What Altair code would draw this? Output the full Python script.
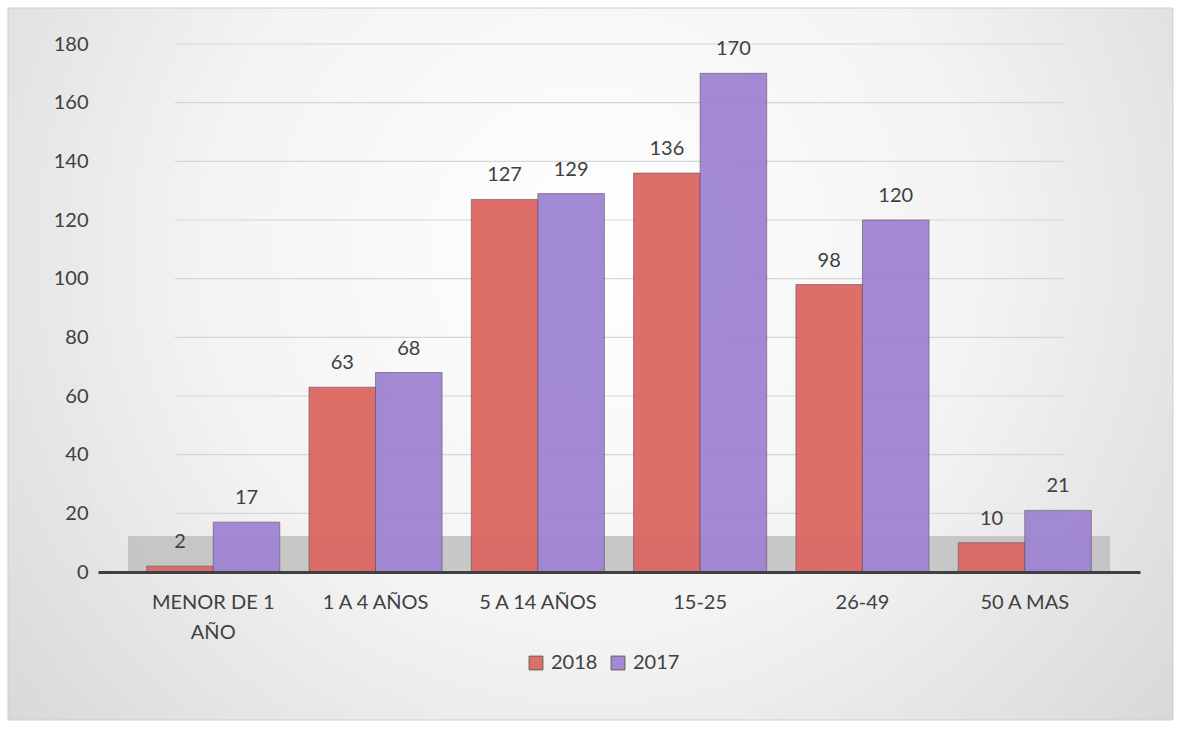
import altair as alt
import pandas as pd

categories = ["MENOR DE 1 AÑO", "1 A 4 AÑOS", "5 A 14 AÑOS", "15-25", "26-49", "50 A MAS"]
values_2018 = [2, 63, 127, 136, 98, 10]
values_2017 = [17, 68, 129, 170, 120, 21]
series = ["2018", "2017"]
y_ticks = [0, 20, 40, 60, 80, 100, 120, 140, 160, 180]

rows = []
for c, a, b in zip(categories, values_2018, values_2017):
    rows.append({"cat": c, "serie": "2018", "v": a})
    rows.append({"cat": c, "serie": "2017", "v": b})
df = pd.DataFrame(rows)
grid_df = pd.DataFrame({"t": y_ticks[1:]})

FONT = "Lato"
TXT = "#404040"
FS = 20
W, H = 1042, 528
PL, PT = 98, 44

color = alt.Color("serie:N", sort=series,
                  scale=alt.Scale(domain=series, range=["#DC6761", "#9F84D3"]),
                  legend=alt.Legend(title=None, orient="none", legendX=428, legendY=609,
                                    direction="horizontal", symbolType="square",
                                    symbolSize=190, symbolStrokeColor="#555555",
                                    symbolStrokeWidth=1, labelFontSize=FS,
                                    labelColor=TXT, labelFont=FONT, columnPadding=10,
                                    labelOffset=5))

xscale = alt.Scale(paddingInner=0.18, paddingOuter=0.3)
x = alt.X("cat:N", sort=categories, title=None, scale=xscale,
          axis=alt.Axis(labelAngle=0, labelFontSize=FS, labelColor=TXT, labelFont=FONT,
                        labelPadding=20, ticks=False, domainColor="#404040", domainWidth=3,
                        labelLimit=300, labelLineHeight=30, zindex=1, grid=False,
                        labelExpr="datum.label == 'MENOR DE 1 AÑO' ? ['MENOR DE 1', 'AÑO'] : datum.label"))
y = alt.Y("v:Q", title=None,
          scale=alt.Scale(domain=[0, 180], nice=False),
          axis=alt.Axis(values=y_ticks, labelFontSize=FS, labelColor=TXT, labelFont=FONT,
                        labelPadding=10, ticks=False, domain=False, grid=False, zindex=1))

bg = alt.Chart(alt.Data(values=[{}])).mark_rect(
    stroke="#cfcfcf", strokeWidth=1,
    color=alt.Gradient(gradient="radial", x1=0.5, y1=0.4, r1=0.0, x2=0.5, y2=0.4, r2=0.75,
                       stops=[alt.GradientStop(color="#ffffff", offset=0),
                              alt.GradientStop(color="#f3f3f3", offset=0.45),
                              alt.GradientStop(color="#cfcfcf", offset=1)])
).encode(x=alt.value(-90), x2=alt.value(1075), y=alt.value(-36), y2=alt.value(676))

floor = alt.Chart(alt.Data(values=[{}])).mark_rect(color="#bdbdbd", opacity=0.8).encode(
    x=alt.value(30), x2=alt.value(W - 30), y=alt.value(H - 36), y2=alt.value(H)
)

grid = alt.Chart(grid_df).mark_rule(color="#d6d6d6", strokeWidth=1.2).encode(
    y=alt.Y("t:Q", scale=alt.Scale(domain=[0, 180], nice=False)),
    x=alt.value(77), x2=alt.value(967),
)

bars = alt.Chart(df).mark_bar(stroke="#5a4a5a", strokeWidth=1, strokeOpacity=0.6, opacity=0.95).encode(
    x=x, y=y, color=color,
    xOffset=alt.XOffset("serie:N", sort=series, scale=alt.Scale(domain=series)),
)

labels = alt.Chart(df).mark_text(dy=-14, fontSize=FS, color=TXT, font=FONT, baseline="bottom").encode(
    x=alt.X("cat:N", sort=categories),
    y="v:Q",
    xOffset=alt.XOffset("serie:N", sort=series, scale=alt.Scale(domain=series)),
    text="v:Q",
)

chart = alt.layer(bg, grid, floor, bars, labels).properties(
    width=W, height=H,
    padding={"left": PL, "top": PT, "right": 1182 - PL - W, "bottom": 729 - PT - H},
    autosize=alt.AutoSizeParams(type="none"),
    background="white",
).configure_view(stroke=None)

chart.save("out.html", embed_options={"renderer": "svg", "actions": False})
